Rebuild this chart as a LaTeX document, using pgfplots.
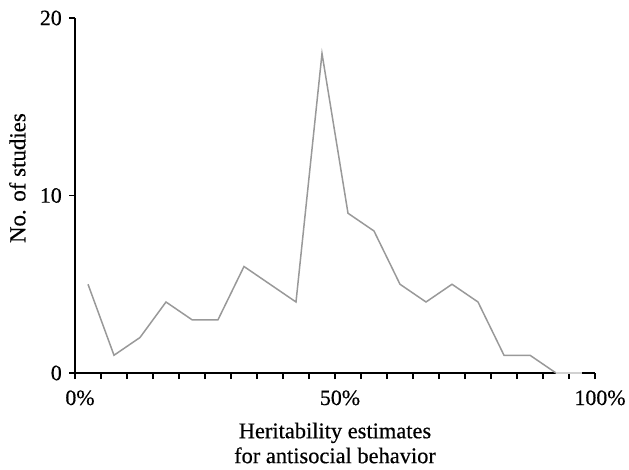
\documentclass[border=0pt]{standalone}
\usepackage{fontspec}
\setmainfont[FakeBold=0.5]{Liberation Serif}
\usepackage{pgfplots}
\pgfplotsset{compat=1.18}

\begin{document}
\begin{tikzpicture}
\begin{axis}[
  scale only axis,
  width=520bp, height=355bp,
  xmin=0, xmax=100, ymin=0, ymax=20,
  axis x line*=bottom, axis y line*=left,
  axis line style={-, line width=1.4bp, black},
  tick align=outside,
  major tick length=6bp, minor tick length=6bp,
  tick style={black, line width=1.2bp},
  xtick={0,50,100},
  xticklabels={0\%,50\%,100\%},
  minor xtick={5,10,...,95},
  ytick={0,10,20},
  /pgf/number format/assume math mode=true,
  tick label style={font=\fontsize{22}{24}\selectfont},
  xticklabel style={anchor=base, yshift=-26bp, xshift=5bp},
  yticklabel style={anchor=east, inner sep=0pt, xshift=-7bp},
  xlabel={Heritability estimates\\for antisocial behavior},
  xlabel style={align=center, font=\fontsize{22.5}{25}\selectfont, inner sep=0pt,
    anchor=north, at={(axis description cs:0.5,-0.1394)}},
  ylabel={No. of studies},
  ylabel style={font=\fontsize{23}{26}\selectfont, inner sep=0pt,
    anchor=north, at={(axis description cs:-0.127,0.549)}},
  clip=false,
]
\addplot[color=black!40, line width=1.5bp] coordinates {
(2.5,5)(7.5,1)(12.5,2)(17.5,4)(22.5,3)(27.5,3)(32.5,6)(37.5,5)(42.5,4)
(47.5,18)(52.5,9)(57.5,8)(62.5,5)(67.5,4)(72.5,5)(77.5,4)(82.5,1)(87.5,1)(92.5,0)
};
\addplot[color=black!18, line width=1.5bp] coordinates {(92.5,0)(97.5,0)};
\end{axis}
\pgfresetboundingbox
\path (current axis.south west) ++(-75bp,-97bp) rectangle ([xshift=34bp,yshift=18bp]current axis.north east);
\end{tikzpicture}
\end{document}
